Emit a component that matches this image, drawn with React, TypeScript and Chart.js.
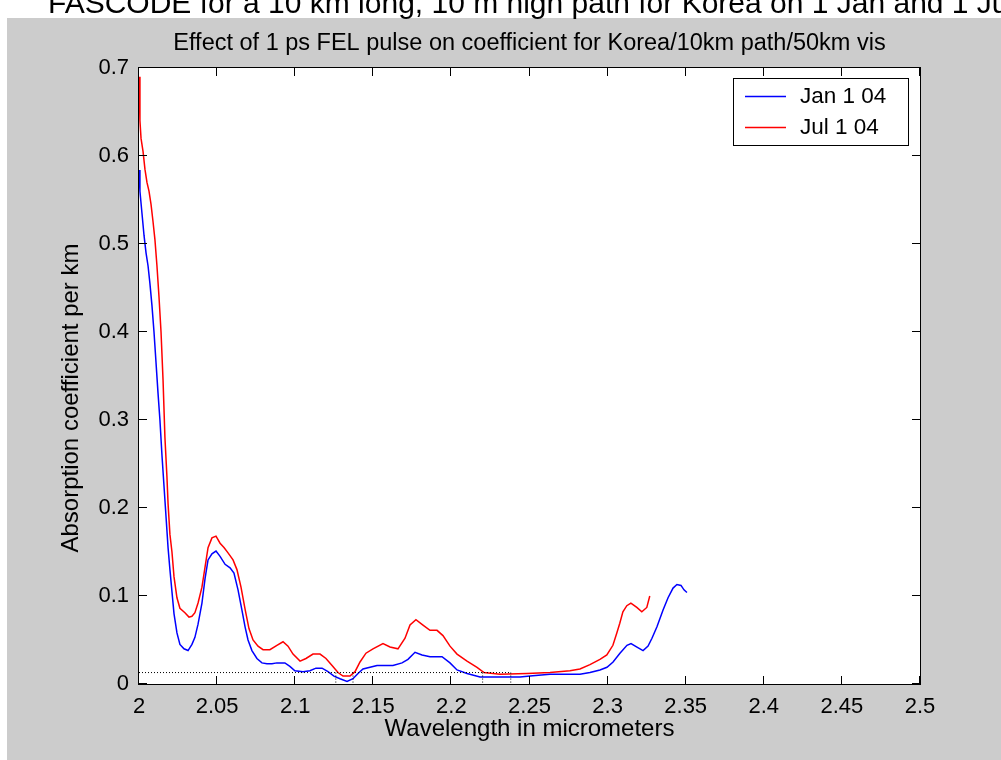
import React, { useEffect, useRef } from 'react';
import { Chart, registerables } from 'chart.js';

Chart.register(...registerables);

const headerText = 'FASCODE for a 10 km long, 10 m high path for Korea on 1 Jan and 1 July';
const chartTitle = 'Effect of 1 ps FEL pulse on coefficient for Korea/10km path/50km vis';
const xAxisTitle = 'Wavelength in micrometers';
const yAxisTitle = 'Absorption coefficient per km';
const seriesLabels = ['Jan 1 04', 'Jul 1 04'];
const seriesColors = ['#0000ff', '#ff0000'];

const xTicks = [2, 2.05, 2.1, 2.15, 2.2, 2.25, 2.3, 2.35, 2.4, 2.45, 2.5];
const xTickLabels = ['2', '2.05', '2.1', '2.15', '2.2', '2.25', '2.3', '2.35', '2.4', '2.45', '2.5'];
const yTicks = [0, 0.1, 0.2, 0.3, 0.4, 0.5, 0.6, 0.7];
const yTickLabels = ['0', '0.1', '0.2', '0.3', '0.4', '0.5', '0.6', '0.7'];

const janWavelength = [
  2.0, 2.0006, 2.0019, 2.0032, 2.0045, 2.0058, 2.007, 2.0083, 2.0096, 2.0109,
  2.0122, 2.0134, 2.0147, 2.016, 2.0173, 2.0186, 2.0198, 2.0211, 2.0224, 2.0243,
  2.0262, 2.0288, 2.0314, 2.0339, 2.0358, 2.0378, 2.0403, 2.0423, 2.0442, 2.0467,
  2.0493, 2.0519, 2.0551, 2.0583, 2.0608, 2.0634, 2.0659, 2.0679, 2.0698, 2.0723,
  2.0755, 2.0787, 2.0819, 2.0851, 2.0883, 2.0934, 2.0966, 2.0998, 2.105, 2.1094,
  2.1133, 2.1172, 2.121, 2.1248, 2.1287, 2.1332, 2.137, 2.1402, 2.1434, 2.1479,
  2.1524, 2.1626, 2.1684, 2.1722, 2.1767, 2.1812, 2.1863, 2.194, 2.1991, 2.2036,
  2.21, 2.2183, 2.2311, 2.2439, 2.2503, 2.2631, 2.2823, 2.2887, 2.2951, 2.2996,
  2.3035, 2.3079, 2.3124, 2.315, 2.3188, 2.3227, 2.3259, 2.3284, 2.3316, 2.3355,
  2.3387, 2.3419, 2.3444, 2.347, 2.3489, 2.3508,
];
const janCoeff = [
  0.584, 0.56, 0.535, 0.51, 0.49, 0.475, 0.455, 0.43, 0.4, 0.365,
  0.33, 0.3, 0.26, 0.225, 0.19, 0.155, 0.13, 0.105, 0.08, 0.058,
  0.045, 0.04, 0.038, 0.045, 0.053, 0.068, 0.092, 0.12, 0.141, 0.148,
  0.151, 0.145, 0.136, 0.132, 0.126, 0.107, 0.084, 0.065, 0.05, 0.038,
  0.029, 0.024, 0.023, 0.023, 0.024, 0.024, 0.02, 0.015, 0.014, 0.015,
  0.018, 0.018, 0.014, 0.009, 0.006, 0.003, 0.006, 0.012, 0.017, 0.019,
  0.021, 0.021, 0.024, 0.028, 0.036, 0.033, 0.031, 0.031, 0.024, 0.016,
  0.012, 0.008, 0.008, 0.008, 0.009, 0.011, 0.011, 0.013, 0.016, 0.019,
  0.025, 0.035, 0.044, 0.046, 0.042, 0.038, 0.043, 0.052, 0.065, 0.084,
  0.098, 0.109, 0.113, 0.112, 0.107, 0.104,
];

const julWavelength = [
  2.0, 2.0006, 2.0013, 2.0026, 2.0038, 2.0051, 2.0064, 2.0077, 2.009, 2.0102,
  2.0115, 2.0128, 2.0141, 2.0154, 2.0166, 2.0179, 2.0186, 2.0198, 2.0211, 2.0224,
  2.0243, 2.0262, 2.0294, 2.032, 2.0339, 2.0358, 2.0378, 2.0403, 2.0423, 2.0442,
  2.0467, 2.0493, 2.0519, 2.0544, 2.057, 2.0602, 2.0627, 2.0653, 2.0679, 2.0704,
  2.073, 2.0762, 2.0794, 2.0838, 2.0883, 2.0922, 2.0954, 2.0986, 2.1031, 2.1069,
  2.1114, 2.1159, 2.1197, 2.1236, 2.1274, 2.1306, 2.1351, 2.1383, 2.1415, 2.1453,
  2.1498, 2.1562, 2.1607, 2.1658, 2.1703, 2.1735, 2.1773, 2.1818, 2.1863, 2.1908,
  2.1946, 2.1991, 2.2036, 2.21, 2.2164, 2.2209, 2.2311, 2.2484, 2.2631, 2.2759,
  2.2823, 2.2887, 2.2951, 2.2995, 2.3034, 2.3059, 2.3078, 2.3098, 2.3123, 2.3149,
  2.3187, 2.3219, 2.3251, 2.327,
];
const julCoeff = [
  0.69, 0.64, 0.62, 0.605, 0.585, 0.57, 0.56, 0.545, 0.525, 0.505,
  0.475, 0.44, 0.4, 0.345, 0.28, 0.235, 0.205, 0.17, 0.15, 0.122,
  0.098, 0.086, 0.081, 0.076, 0.077, 0.081, 0.092, 0.11, 0.133, 0.155,
  0.166, 0.168, 0.16, 0.155, 0.149, 0.141, 0.13, 0.11, 0.085, 0.063,
  0.05, 0.043, 0.039, 0.039, 0.044, 0.048, 0.043, 0.034, 0.026, 0.029,
  0.034, 0.034, 0.029, 0.021, 0.013, 0.009, 0.009, 0.014, 0.025, 0.035,
  0.04, 0.046, 0.042, 0.04, 0.052, 0.067, 0.073, 0.067, 0.061, 0.061,
  0.055, 0.043, 0.034, 0.026, 0.019, 0.013, 0.011, 0.012, 0.013, 0.015,
  0.017, 0.022, 0.028, 0.033, 0.044, 0.058, 0.069, 0.082, 0.089, 0.092,
  0.087, 0.082, 0.087, 0.1,
];

const thresholdLevel = 0.013;
const thresholdSpan = [2.0, 2.237];
const thresholdMarkers = [2.126, 2.137, 2.22, 2.238];

const FONT = 'Arial, "Liberation Sans", Helvetica, sans-serif';

const framePlugin = {
  id: 'frame',
  beforeDraw(chart: any) {
    const { ctx, width, height, chartArea } = chart;
    ctx.save();
    ctx.fillStyle = '#ffffff';
    ctx.fillRect(0, 0, width, height);
    ctx.fillStyle = '#cccccc';
    ctx.fillRect(7, 18, width - 7, height - 18);
    ctx.fillStyle = '#ffffff';
    ctx.fillRect(chartArea.left, chartArea.top, chartArea.right - chartArea.left, chartArea.bottom - chartArea.top);

    ctx.fillStyle = '#000000';
    ctx.font = `30px ${FONT}`;
    ctx.textAlign = 'left';
    ctx.textBaseline = 'alphabetic';
    ctx.fillText(headerText, 48, 13);

    const cx = (chartArea.left + chartArea.right) / 2;
    ctx.font = `23.5px ${FONT}`;
    ctx.textAlign = 'center';
    ctx.textBaseline = 'middle';
    ctx.fillText(chartTitle, cx, 44);

    ctx.font = `24px ${FONT}`;
    ctx.fillText(xAxisTitle, cx, 729);

    ctx.save();
    ctx.translate(71, 398);
    ctx.rotate(-Math.PI / 2);
    ctx.fillText(yAxisTitle, 0, 0);
    ctx.restore();
    ctx.restore();
  },
  afterDraw(chart: any) {
    const { ctx, chartArea, scales } = chart;
    const { left, right, top, bottom } = chartArea;
    ctx.save();
    ctx.strokeStyle = '#000000';
    ctx.lineWidth = 1;
    ctx.strokeRect(Math.round(left) - 0.5, Math.round(top) - 0.5, Math.round(right - left) + 1, Math.round(bottom - top) + 1);
    const tl = 8;
    ctx.beginPath();
    xTicks.forEach((v) => {
      const x = Math.round(scales.x.getPixelForValue(v)) - 0.5;
      ctx.moveTo(x, bottom);
      ctx.lineTo(x, bottom - tl);
      ctx.moveTo(x, top);
      ctx.lineTo(x, top + tl);
    });
    yTicks.forEach((v) => {
      const y = Math.round(scales.y.getPixelForValue(v)) - 0.5;
      ctx.moveTo(left, y);
      ctx.lineTo(left + tl, y);
      ctx.moveTo(right, y);
      ctx.lineTo(right - tl, y);
    });
    ctx.stroke();

    // legend
    const lx = 733.5, ly = 78.5, lw = 175, lh = 67;
    ctx.fillStyle = '#ffffff';
    ctx.fillRect(lx, ly, lw, lh);
    ctx.strokeRect(lx, ly, lw, lh);
    ctx.font = `22.5px ${FONT}`;
    ctx.textAlign = 'left';
    ctx.textBaseline = 'middle';
    seriesLabels.forEach((label, i) => {
      const y = 96 + i * 31;
      ctx.strokeStyle = seriesColors[i];
      ctx.lineWidth = 1.5;
      ctx.beginPath();
      ctx.moveTo(745, y + 0.5);
      ctx.lineTo(786, y + 0.5);
      ctx.stroke();
      ctx.fillStyle = '#000000';
      ctx.fillText(label, 800, y + 1);
    });
    ctx.restore();
  },
};

export default function App() {
  const canvasRef = useRef<HTMLCanvasElement | null>(null);

  useEffect(() => {
    const canvas = canvasRef.current;
    if (!canvas) return;
    const toPoints = (xs: number[], ys: number[]) => xs.map((x, i) => ({ x, y: ys[i] }));
    const dotted = {
      borderColor: '#000000',
      borderWidth: 1,
      borderDash: [1, 2],
      pointRadius: 0,
      fill: false,
      tension: 0,
    };
    const datasets: any[] = [
      {
        label: 'threshold',
        data: thresholdSpan.map((x) => ({ x, y: thresholdLevel })),
        ...dotted,
      },
      ...thresholdMarkers.map((x, i) => ({
        label: 'marker' + i,
        data: [{ x, y: thresholdLevel }, { x, y: 0 }],
        ...dotted,
      })),
      {
        label: seriesLabels[0],
        data: toPoints(janWavelength, janCoeff),
        borderColor: seriesColors[0],
        borderWidth: 1.5,
        pointRadius: 0,
        fill: false,
        tension: 0,
      },
      {
        label: seriesLabels[1],
        data: toPoints(julWavelength, julCoeff),
        borderColor: seriesColors[1],
        borderWidth: 1.5,
        pointRadius: 0,
        fill: false,
        tension: 0,
      },
    ];

    const chart = new Chart(canvas, {
      type: 'line',
      data: { datasets },
      plugins: [framePlugin],
      options: {
        responsive: false,
        animation: false,
        devicePixelRatio: 1,
        layout: { padding: { left: 0, top: 68, right: 81, bottom: 0 } },
        plugins: {
          legend: { display: false },
          tooltip: { enabled: false },
          title: { display: false },
        },
        scales: {
          x: {
            type: 'linear',
            min: 2,
            max: 2.5,
            afterBuildTicks: (s: any) => {
              s.ticks = xTicks.map((value) => ({ value }));
            },
            afterFit: (s: any) => {
              s.height = 76;
            },
            grid: { drawOnChartArea: false, drawTicks: false, display: true, color: 'rgba(0,0,0,0)' },
            border: { display: false },
            ticks: {
              autoSkip: false,
              maxRotation: 0,
              padding: 10,
              color: '#000000',
              font: { size: 22, family: FONT },
              callback: (_v: any, i: number) => xTickLabels[i],
            },
          },
          y: {
            type: 'linear',
            min: 0,
            max: 0.7,
            afterBuildTicks: (s: any) => {
              s.ticks = yTicks.map((value) => ({ value }));
            },
            afterFit: (s: any) => {
              s.width = 139;
            },
            grid: { drawOnChartArea: false, drawTicks: false, display: true, color: 'rgba(0,0,0,0)' },
            border: { display: false },
            ticks: {
              autoSkip: false,
              padding: 10,
              color: '#000000',
              font: { size: 22, family: FONT },
              callback: (_v: any, i: number) => yTickLabels[i],
            },
          },
        },
      } as any,
    });
    return () => chart.destroy();
  }, []);

  return (
    <div style={{ position: 'fixed', left: 0, top: 0, width: 1001, height: 760 }}>
      <canvas ref={canvasRef} width={1001} height={760} style={{ display: 'block' }} />
    </div>
  );
}
